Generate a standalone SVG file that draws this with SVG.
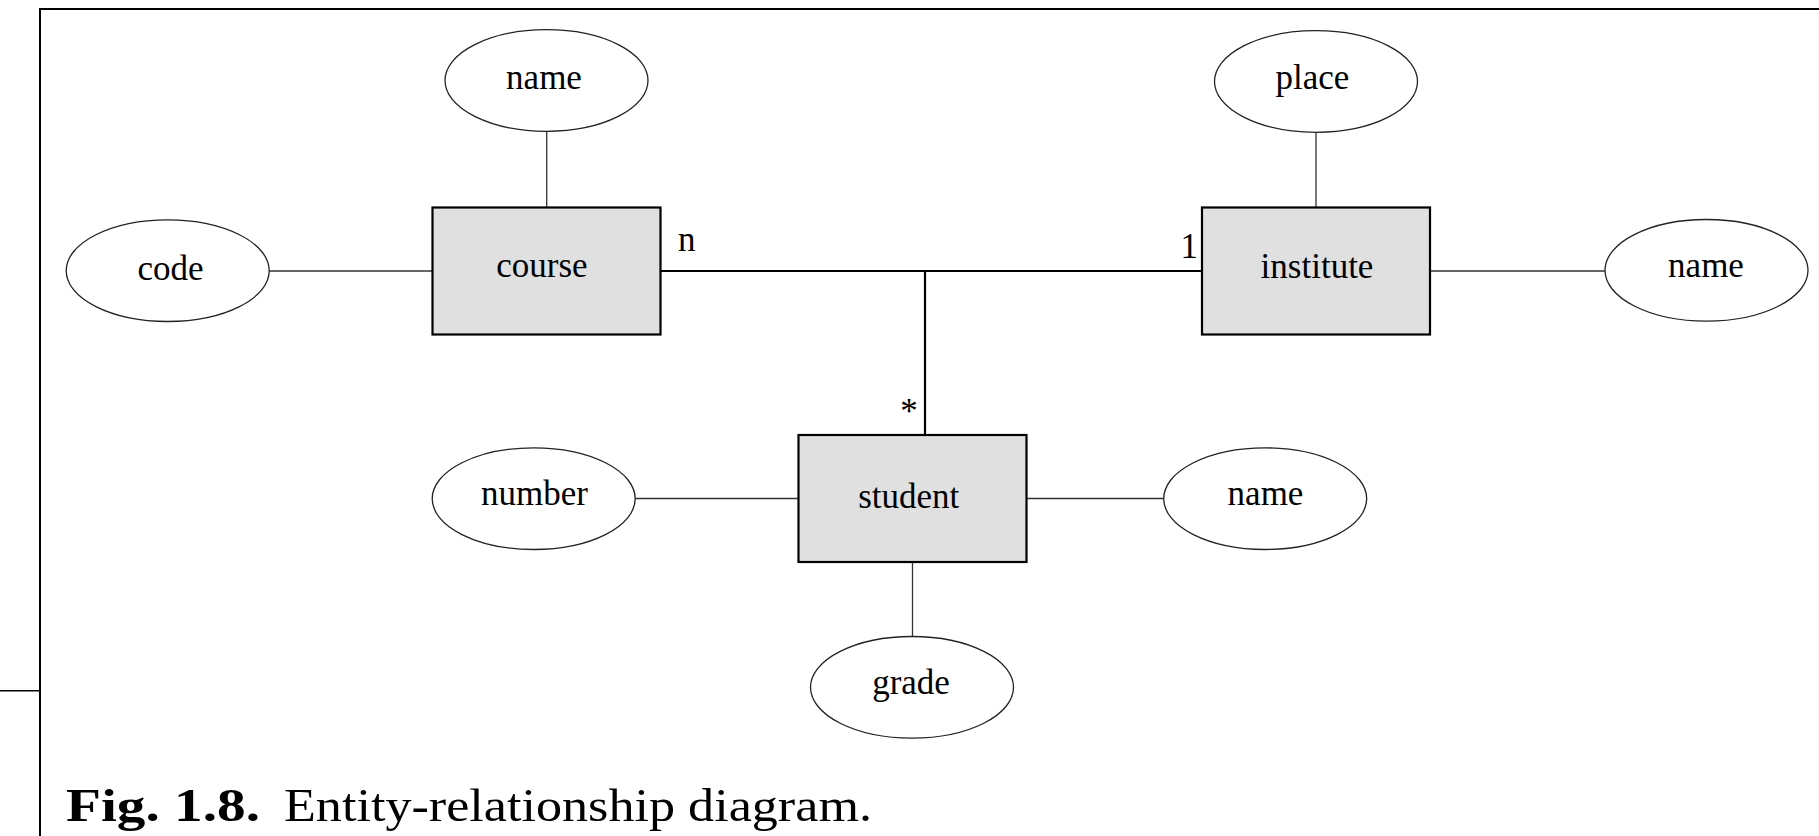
<svg xmlns="http://www.w3.org/2000/svg" width="1819" height="836" viewBox="0 0 1819 836">
  <style>
    .frame { stroke: #000; stroke-width: 2; fill: none; }
    .entity { fill: #e0e0e0; stroke: #000; stroke-width: 2.2; }
    .attr { fill: #fff; stroke: #222; stroke-width: 1.3; }
    .thin { stroke: #333; stroke-width: 1.3; fill: none; }
    .rel { stroke: #000; stroke-width: 2.2; fill: none; }
    .lbl { font-family: "Liberation Serif", "Times New Roman", serif; font-size: 35px; fill: #000; text-anchor: middle; }
    .card { font-family: "Liberation Serif", "Times New Roman", serif; font-size: 35px; fill: #000; }
    .cap { font-family: "Liberation Serif", "Times New Roman", serif; font-size: 46px; fill: #000; }
  </style>

  <rect width="1819" height="836" fill="#fff"/>

  <!-- page frame -->
  <g id="frame">
    <line class="frame" x1="40" y1="9" x2="1819" y2="9"/>
    <line class="frame" x1="40" y1="8" x2="40" y2="836"/>
    <line class="frame" x1="0" y1="690.7" x2="40" y2="690.7" style="stroke-width:1.6"/>
  </g>

  <!-- connectors -->
  <g id="connectors">
    <line class="thin" x1="269" y1="271" x2="432" y2="271"/>
    <line class="thin" x1="546.7" y1="131" x2="546.7" y2="207"/>
    <line class="thin" x1="1316" y1="132" x2="1316" y2="207"/>
    <line class="thin" x1="1430" y1="271" x2="1606" y2="271"/>
    <line class="thin" x1="635" y1="498.5" x2="798" y2="498.5"/>
    <line class="thin" x1="1027" y1="498.5" x2="1164" y2="498.5"/>
    <line class="thin" x1="912.5" y1="562" x2="912.5" y2="637"/>
    <line class="rel" x1="661" y1="271" x2="1202" y2="271"/>
    <line class="rel" x1="925" y1="271" x2="925" y2="435"/>
    <text class="card" x="678" y="251">n</text>
    <text class="card" x="1180.5" y="258">1</text>
    <text class="lbl" x="909" y="423">*</text>
  </g>

  <!-- entities -->
  <g id="course">
    <rect class="entity" x="432.5" y="207.5" width="228" height="127"/>
    <text class="lbl" x="542" y="277">course</text>
  </g>
  <g id="institute">
    <rect class="entity" x="1202" y="207.5" width="228" height="127"/>
    <text class="lbl" x="1317" y="278">institute</text>
  </g>
  <g id="student">
    <rect class="entity" x="798.5" y="435" width="228" height="127"/>
    <text class="lbl" x="908.7" y="508.3">student</text>
  </g>

  <!-- attributes -->
  <g id="course-name">
    <ellipse class="attr" cx="546.5" cy="80.5" rx="101.5" ry="50.8"/>
    <text class="lbl" x="544" y="89">name</text>
  </g>
  <g id="course-code">
    <ellipse class="attr" cx="167.7" cy="270.7" rx="101.5" ry="50.8"/>
    <text class="lbl" x="170.5" y="280">code</text>
  </g>
  <g id="institute-place">
    <ellipse class="attr" cx="1316" cy="81.5" rx="101.5" ry="50.8"/>
    <text class="lbl" x="1312.5" y="88.5">place</text>
  </g>
  <g id="institute-name">
    <ellipse class="attr" cx="1706.5" cy="270.3" rx="101.5" ry="50.8"/>
    <text class="lbl" x="1706" y="276.7">name</text>
  </g>
  <g id="student-number">
    <ellipse class="attr" cx="533.7" cy="498.7" rx="101.5" ry="50.8"/>
    <text class="lbl" x="534.5" y="505">number</text>
  </g>
  <g id="student-name">
    <ellipse class="attr" cx="1265.2" cy="498.7" rx="101.5" ry="50.8"/>
    <text class="lbl" x="1265.5" y="505">name</text>
  </g>
  <g id="student-grade">
    <ellipse class="attr" cx="912" cy="687.3" rx="101.5" ry="50.8"/>
    <text class="lbl" x="911" y="694">grade</text>
  </g>

  <!-- caption -->
  <g id="caption">
    <text class="cap" x="66" y="821" font-weight="bold" textLength="194" lengthAdjust="spacingAndGlyphs">Fig. 1.8.</text>
    <text class="cap" x="284" y="821" textLength="588" lengthAdjust="spacingAndGlyphs">Entity-relationship diagram.</text>
  </g>
</svg>
